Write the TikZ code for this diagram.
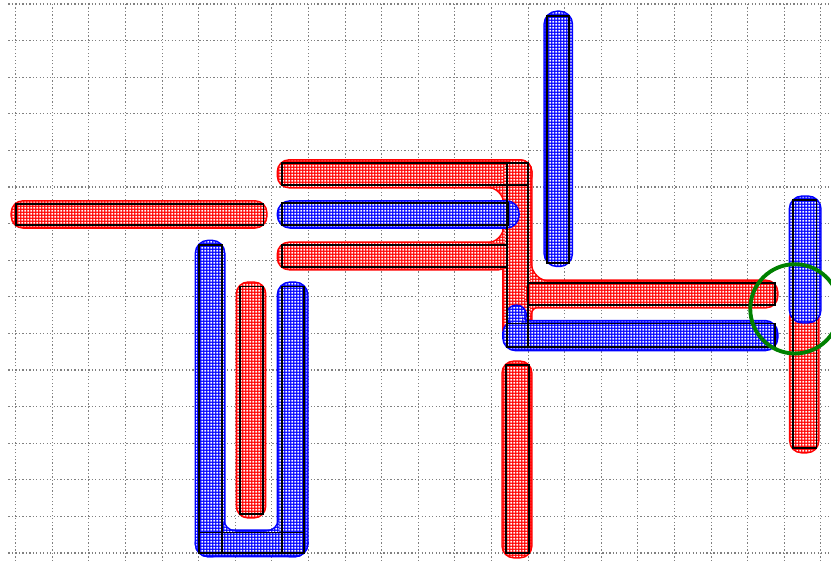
\documentclass[tikz,border=0pt]{standalone}
\usetikzlibrary{patterns}

% small white holes on a coloured pad, like a hatched copper fill
\pgfdeclarepatternformonly{padholes}{\pgfpointorigin}{\pgfqpoint{2.5pt}{2.5pt}}{\pgfqpoint{2.5pt}{2.5pt}}{%
    \pgfpathrectangle{\pgfqpoint{0.45pt}{0.45pt}}{\pgfqpoint{1.6pt}{1.6pt}}\pgfusepath{fill}}

% red traces (outline pass and fill pass use the same shapes)
\newcommand{\redtraces}[1]{%
    \foreach \xa/\ya/\xb/\yb in {-0.1/8.9/6.84/9.6, 7.17/10.0/14.08/10.72, 13.33/5.8/14.08/10.72,
        7.17/7.76/13.5/8.47, 13.9/6.72/20.8/7.43, 6.05/0.98/6.81/7.38,
        13.31/-0.11/14.08/5.22, 21.17/2.76/21.92/6.75} {
        \path[#1, rounded corners=0.3cm] (\xa,\ya) rectangle (\xb,\yb);
    }
    % fillets where the bars meet the trunk
    \path[#1] (13.36,10.02) -- (12.86,10.02) arc[start angle=90, end angle=0, radius=0.5] -- cycle;
    \path[#1] (13.36,8.45) -- (12.86,8.45) arc[start angle=270, end angle=360, radius=0.5] -- cycle;
    \path[#1] (14.06,7.4) -- (14.06,7.95) arc[start angle=180, end angle=270, radius=0.55] -- cycle;
    \path[#1] (14.06,6.75) -- (14.31,6.75) arc[start angle=90, end angle=180, radius=0.25] -- cycle;
}

% blue traces
\newcommand{\bluetraces}[1]{%
    \foreach \xa/\ya/\xb/\yb in {7.17/8.9/13.73/9.6, 14.46/7.85/15.19/14.78, 13.33/5.55/20.8/6.33,
        21.16/6.31/21.98/9.73, 4.93/-0.08/5.69/8.52, 4.93/-0.08/7.96/0.6, 7.17/-0.08/7.96/7.38} {
        \path[#1, rounded corners=0.33cm] (\xa,\ya) rectangle (\xb,\yb);
    }
    \path[#1] (13.68,6.5) circle[radius=0.25];
    \path[#1] (13.8,6.3) -- (13.8,6.58) arc[start angle=180, end angle=270, radius=0.28] -- cycle;
    % inner corners of the U
    \path[#1] (5.66,0.58) -- (5.66,0.93) arc[start angle=180, end angle=270, radius=0.35] -- cycle;
    \path[#1] (7.2,0.58) -- (6.85,0.58) arc[start angle=270, end angle=360, radius=0.35] -- cycle;
}

\begin{document}
\begin{tikzpicture}[
    gridline/.style={draw=black!50, line width=0.9pt, dash pattern=on 1pt off 1.7pt},
    redline/.style={draw=red, line width=2.4pt, line join=round},
    blueline/.style={draw=blue, line width=2.4pt, line join=round},
    redpad/.style={fill=red, postaction={pattern=padholes, pattern color=white}},
    bluepad/.style={fill=blue, postaction={pattern=padholes, pattern color=white}},
    padbox/.style={draw=black, line width=1.5pt},
    marker/.style={draw=green!50!black, line width=3pt},
]

\useasboundingbox (-0.429,-0.219) rectangle (22.276,15.109);

% ===== Background grid =====
\draw[gridline] (-0.2,-0.219) grid (22.276,15);

% ===== Red net =====
\redtraces{redline}
\redtraces{redpad}

% ===== Blue net =====
\bluetraces{blueline}
\bluetraces{bluepad}

% ===== Drawn rectangles =====
\foreach \xa/\ya/\xb/\yb in {0/8.96/6.77/9.54, 7.27/10.05/14.0/10.65, 7.27/8.96/13.46/9.55,
    7.27/7.82/13.42/8.42, 13.42/5.64/14.0/10.65, 14.0/6.78/20.75/7.37, 13.42/5.64/20.75/6.27,
    14.52/7.92/15.12/14.67, 5.02/0/5.63/8.42, 5.02/0/7.88/0.56, 7.27/0/7.88/7.28,
    6.13/1.07/6.75/7.28, 13.4/0/14.02/5.14, 21.25/2.86/21.88/9.65} {
    \draw[padbox] (\xa,\ya) rectangle (\xb,\yb);
}

% Marked spot where the two nets touch
\coordinate (hit) at (21.29,6.67);
\draw[marker] (hit) circle[radius=1.22];

\end{tikzpicture}
\end{document}
